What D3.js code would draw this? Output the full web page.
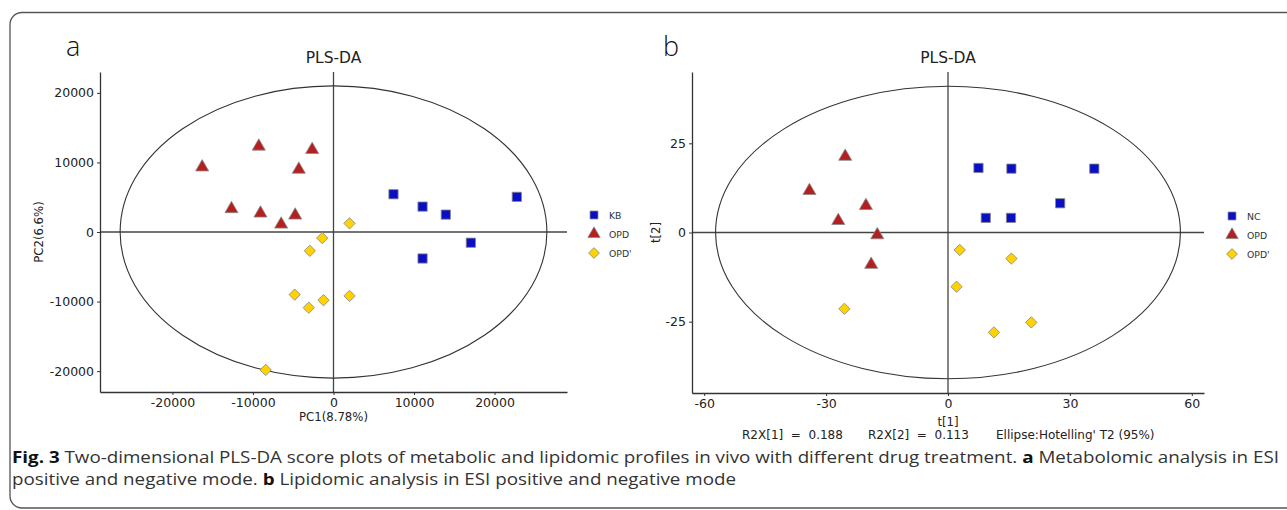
<!DOCTYPE html>
<html>
<head>
<meta charset="utf-8">
<script src="https://cdn.jsdelivr.net/npm/d3@7"></script>
<style>
  body { margin: 0; background: #fff; }
  svg text { font-family: "DejaVu Sans", sans-serif; }
</style>
</head>
<body>
<svg id="fig" width="1287" height="510"></svg>
<script>
// panel a: metabolomics scores (PC1, PC2)
const aKbPc1 = [7450, 11060, 13950, 22770, 17060, 11060];
const aKbPc2 = [5430, 3650, 2500, 5050, -1540, -3810];
const aOpdPc1 = [-9280, -2650, -16310, -4310, -12670, -9070, -4760, -6500];
const aOpdPc2 = [12310, 11830, 9320, 8990, 3320, 2690, 2400, 1100];
const aOpdpPc1 = [1990, -1400, -2940, 1990, -1240, -3070, -4820, -8420];
const aOpdpPc2 = [1240, -870, -2700, -9190, -9810, -10880, -9000, -19830];
const aEllipse = [26500, 21000];
const aTicksX = [-20000, -10000, 0, 10000, 20000];
const aTicksY = [-20000, -10000, 0, 10000, 20000];
const aLegend = ["KB", "OPD", "OPD'"];

// panel b: lipidomics scores (t[1], t[2])
const bNcT1 = [7.5, 15.6, 36.0, 27.6, 9.3, 15.5];
const bNcT2 = [18.1, 17.9, 17.9, 8.2, 4.1, 4.1];
const bOpdT1 = [-25.3, -34.1, -20.2, -27.0, -17.4, -18.9];
const bOpdT2 = [21.3, 11.7, 7.5, 3.3, -0.7, -9.0];
const bOpdpT1 = [2.9, 15.6, 2.1, -25.5, 20.5, 11.3];
const bOpdpT2 = [-4.9, -7.3, -15.2, -21.4, -25.2, -28.0];
const bEllipse = [57.2, 41];
const bTicksX = [-60, -30, 0, 30, 60];
const bTicksY = [-25, 0, 25];
const bLegend = ["NC", "OPD", "OPD'"];

const colors = ["#0a0fc2", "#b41f1f", "#ffd200"];
const shapes = ["square", "triangle", "diamond"];

const svg = d3.select("#fig");

// frame around the figure
svg.append("path")
  .attr("d", "M1295,12.5 H22 A12,12 0 0 0 10,24.5 V496 A12,12 0 0 0 22,508 H1295")
  .attr("fill", "none")
  .attr("stroke", "#555")
  .attr("stroke-width", 1.3);

function symbolPath(shape, big) {
  if (shape === "square") return d3.symbol(d3.symbolSquare, big ? 86 : 64)();
  if (shape === "triangle") return d3.symbol(d3.symbolTriangle, big ? 74 : 66)();
  return d3.symbol(d3.symbolSquare, big ? 64 : 58)();
}

// plain hyphen, no thousands separator
const plainFmt = d => String(d);

function drawPanel(p) {
  const g = svg.append("g");
  const x = d3.scaleLinear().domain(p.xDomain).range(p.xRange);
  const y = d3.scaleLinear().domain(p.yDomain).range(p.yRange);

  // zero lines
  g.append("line")
    .attr("x1", p.xRange[0]).attr("x2", p.xRange[1])
    .attr("y1", y(0)).attr("y2", y(0))
    .attr("stroke", "#444").attr("stroke-width", 1.3);
  g.append("line")
    .attr("x1", x(0)).attr("x2", x(0))
    .attr("y1", p.yRange[0]).attr("y2", p.yRange[1])
    .attr("stroke", "#444").attr("stroke-width", 1.3);

  // Hotelling ellipse
  g.append("ellipse")
    .attr("cx", x(0)).attr("cy", y(0))
    .attr("rx", x(p.ellipse[0]) - x(0))
    .attr("ry", y(0) - y(p.ellipse[1]))
    .attr("fill", "none")
    .attr("stroke", "#333")
    .attr("stroke-width", 1.1);

  // axes
  const ax = g.append("g")
    .attr("transform", `translate(0,${p.yRange[0]})`)
    .call(d3.axisBottom(x).tickValues(p.ticksX).tickFormat(plainFmt).tickSize(3).tickPadding(3).tickSizeOuter(0));
  const ay = g.append("g")
    .attr("transform", `translate(${p.xRange[0]},0)`)
    .call(d3.axisLeft(y).tickValues(p.ticksY).tickFormat(plainFmt).tickSize(3).tickPadding(3).tickSizeOuter(0));
  [ax, ay].forEach(a => {
    a.select(".domain").attr("stroke", "#333").attr("stroke-width", 1.3);
    a.selectAll(".tick line").attr("stroke", "#333");
    a.selectAll(".tick text")
      .attr("fill", "#222")
      .style("font-size", "12.5px")
      .style("font-family", "DejaVu Sans");
  });

  // points
  p.series.forEach((s, i) => {
    g.selectAll(null)
      .data(s.xs.map((v, k) => [v, s.ys[k]]))
      .enter()
      .append("path")
      .attr("d", symbolPath(shapes[i], true))
      .attr("transform", d => `translate(${x(d[0])},${y(d[1])})` + (shapes[i] === "diamond" ? " rotate(45)" : ""))
      .attr("fill", colors[i])
      .attr("stroke", "#8a8a8a")
      .attr("stroke-width", 0.8);
  });

  // titles and labels
  g.append("text")
    .attr("x", p.letterX).attr("y", 56)
    .style("font-size", "27px")
    .style("font-family", "Open Sans, DejaVu Sans")
    .style("font-weight", 300)
    .attr("fill", "#111")
    .text(p.letter);
  g.append("text")
    .attr("x", x(0)).attr("y", 63)
    .attr("text-anchor", "middle")
    .style("font-size", "15.5px")
    .attr("fill", "#222")
    .text("PLS-DA");
  g.append("text")
    .attr("x", x(0)).attr("y", p.xLabelY)
    .attr("text-anchor", "middle")
    .style("font-size", "11.7px")
    .attr("fill", "#222")
    .text(p.xLabel);
  g.append("text")
    .attr("transform", `translate(${p.yLabelX},${y(0)}) rotate(-90)`)
    .attr("text-anchor", "middle")
    .style("font-size", "11.7px")
    .attr("fill", "#222")
    .text(p.yLabel);

  // legend
  p.legend.forEach((name, i) => {
    const ly = p.legendY + i * 19;
    g.append("path")
      .attr("d", symbolPath(shapes[i], false))
      .attr("transform", `translate(${p.legendX},${ly})` + (shapes[i] === "diamond" ? " rotate(45)" : ""))
      .attr("fill", colors[i])
      .attr("stroke", "#8a8a8a")
      .attr("stroke-width", 0.8);
    g.append("text")
      .attr("x", p.legendX + 15).attr("y", ly + 3.5)
      .style("font-size", "9.3px")
      .attr("fill", "#333")
      .text(name);
  });
  return { x, y };
}

drawPanel({
  xDomain: [-29000, 29000], xRange: [100, 567],
  yDomain: [-23000, 23000], yRange: [392, 72],
  ellipse: aEllipse, ticksX: aTicksX, ticksY: aTicksY,
  series: [
    { xs: aKbPc1, ys: aKbPc2 },
    { xs: aOpdPc1, ys: aOpdPc2 },
    { xs: aOpdpPc1, ys: aOpdpPc2 }
  ],
  letter: "a", letterX: 66,
  xLabel: "PC1(8.78%)", xLabelY: 421,
  yLabel: "PC2(6.6%)", yLabelX: 43,
  legend: aLegend, legendX: 594, legendY: 215
});

drawPanel({
  xDomain: [-63, 63], xRange: [692, 1204],
  yDomain: [-45, 45], yRange: [393, 72],
  ellipse: bEllipse, ticksX: bTicksX, ticksY: bTicksY,
  series: [
    { xs: bNcT1, ys: bNcT2 },
    { xs: bOpdT1, ys: bOpdT2 },
    { xs: bOpdpT1, ys: bOpdpT2 }
  ],
  letter: "b", letterX: 663,
  xLabel: "t[1]", xLabelY: 426,
  yLabel: "t[2]", yLabelX: 660,
  legend: bLegend, legendX: 1232, legendY: 216
});

// model summary under panel b
const summary = [
  ["R2X[1]  =  0.188", 742],
  ["R2X[2]  =  0.113", 868],
  ["Ellipse:Hotelling' T2 (95%)", 996]
];
summary.forEach(d => {
  svg.append("text")
    .attr("x", d[1]).attr("y", 439)
    .style("font-size", "12px")
    .attr("fill", "#222")
    .style("white-space", "pre")
    .text(d[0]);
});

// caption
const cap1 = svg.append("text")
  .attr("x", 12).attr("y", 463)
  .style("font-family", "Open Sans, sans-serif")
  .style("font-size", "15.5px")
  .attr("fill", "#333")
  .attr("textLength", 1267)
  .attr("lengthAdjust", "spacingAndGlyphs");
cap1.append("tspan").style("font-weight", "bold").attr("fill", "#111").text("Fig. 3");
cap1.append("tspan").text("  Two-dimensional PLS-DA score plots of metabolic and lipidomic profiles in vivo with different drug treatment. ");
cap1.append("tspan").style("font-weight", "bold").attr("fill", "#111").text("a");
cap1.append("tspan").text(" Metabolomic analysis in ESI");

const cap2 = svg.append("text")
  .attr("x", 12).attr("y", 485)
  .style("font-family", "Open Sans, sans-serif")
  .style("font-size", "15.5px")
  .attr("fill", "#333")
  .attr("textLength", 724)
  .attr("lengthAdjust", "spacingAndGlyphs");
cap2.append("tspan").text("positive and negative mode. ");
cap2.append("tspan").style("font-weight", "bold").attr("fill", "#111").text("b");
cap2.append("tspan").text(" Lipidomic analysis in ESI positive and negative mode");
</script>
</body>
</html>
